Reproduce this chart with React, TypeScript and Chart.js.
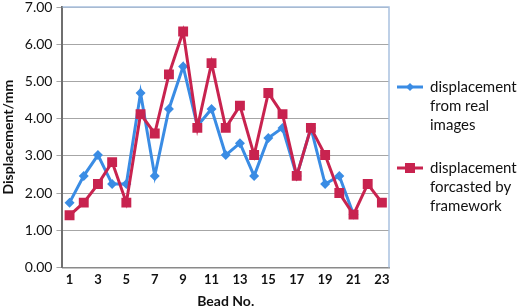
import React, { useEffect, useRef } from "react";
import { Chart, registerables } from "chart.js";

Chart.register(...registerables);

const categories = ["1","2","3","4","5","6","7","8","9","10","11","12","13","14","15","16","17","18","19","20","21","22","23"];
const realImages = [1.74, 2.46, 3.02, 2.24, 2.24, 4.69, 2.46, 4.26, 5.4, 3.8, 4.26, 3.02, 3.34, 2.46, 3.48, 3.75, 2.46, 3.75, 2.24, 2.46, 1.42, null, null];
const forecasted = [1.4, 1.74, 2.24, 2.83, 1.74, 4.12, 3.6, 5.19, 6.34, 3.75, 5.49, 3.75, 4.35, 3.02, 4.69, 4.12, 2.46, 3.75, 3.02, 2.0, 1.42, 2.24, 1.74];
const legendLines = [
  ["displacement", "from real", "images"],
  ["displacement", "forcasted by", "framework"],
];
const yTitle = "Displacement/mm";
const xTitle = "Bead No.";

const BLUE = "#3a8ce4";
const RED = "#c8234f";
const FONT = "Lato, 'Open Sans', sans-serif";

const borderPlugin = {
  id: "plotBorder",
  afterDatasetsDraw(chart: any) {
    const { ctx, chartArea } = chart;
    ctx.save();
    ctx.strokeStyle = "#a9c1df";
    ctx.lineWidth = 1.5;
    ctx.beginPath();
    ctx.moveTo(chartArea.left, chartArea.top);
    ctx.lineTo(chartArea.right, chartArea.top);
    ctx.lineTo(chartArea.right, chartArea.bottom);
    ctx.stroke();
    ctx.restore();
  },
};

const legendPlugin = {
  id: "sideLegend",
  afterDraw(chart: any) {
    const { ctx, chartArea } = chart;
    const x0 = chartArea.right + 8;
    const starts = [87, 168];
    const lineH = 19;
    ctx.save();
    chart.data.datasets.forEach((ds: any, i: number) => {
      const y = starts[i];
      ctx.strokeStyle = ds.borderColor;
      ctx.lineWidth = 3;
      ctx.beginPath();
      ctx.moveTo(x0, y);
      ctx.lineTo(x0 + 26, y);
      ctx.stroke();
      ctx.fillStyle = ds.backgroundColor;
      const cx = x0 + 13;
      if (ds.pointStyle === "rectRot") {
        ctx.beginPath();
        ctx.moveTo(cx, y - 4);
        ctx.lineTo(cx + 4, y);
        ctx.lineTo(cx, y + 4);
        ctx.lineTo(cx - 4, y);
        ctx.closePath();
        ctx.fill();
      } else {
        ctx.fillRect(cx - 5, y - 5, 10, 10);
      }
      ctx.fillStyle = "#111";
      ctx.font = `15px ${FONT}`;
      ctx.textBaseline = "middle";
      ctx.textAlign = "left";
      legendLines[i].forEach((t, k) => ctx.fillText(t, x0 + 33, y + k * lineH));
    });
    ctx.restore();
  },
};

export default function App() {
  const ref = useRef<HTMLCanvasElement>(null);
  useEffect(() => {
    if (!ref.current) return;
    const chart = new Chart(ref.current, {
      type: "line",
      data: {
        labels: categories,
        datasets: [
          {
            label: legendLines[0].join(" "),
            data: realImages,
            borderColor: BLUE,
            backgroundColor: BLUE,
            borderWidth: 3,
            pointStyle: "rectRot",
            pointRadius: 5,
            pointBorderWidth: 0,
            tension: 0,
            order: 2,
          },
          {
            label: legendLines[1].join(" "),
            data: forecasted,
            borderColor: RED,
            backgroundColor: RED,
            borderWidth: 3,
            pointStyle: "rect",
            pointRadius: 7,
            pointBorderWidth: 0,
            tension: 0,
            order: 1,
          },
        ],
      },
      options: {
        responsive: false,
        animation: false,
        layout: { padding: { left: 0, right: 131, top: 6, bottom: 0 } },
        plugins: {
          legend: { display: false },
          tooltip: { enabled: false },
        },
        scales: {
          x: {
            offset: true,
            grid: { display: false, drawTicks: false },
            border: { display: true, color: "#8a8a8a", width: 1.5 },
            ticks: {
              autoSkip: false,
              maxRotation: 0,
              color: "#111",
              font: { family: FONT, size: 13, weight: "bold" },
              padding: 5,
              callback: (v: any, i: number) => (i % 2 === 0 ? categories[i] : ""),
            },
            title: {
              display: true,
              text: xTitle,
              color: "#111",
              font: { family: FONT, size: 14, weight: "bold", lineHeight: 1 },
              padding: { top: 1, bottom: 0 },
            },
          },
          y: {
            min: 0,
            max: 7,
            grid: { color: "#a6a6a6", lineWidth: 1, tickLength: 6, drawTicks: true },
            border: { display: true, color: "#6f6f6f", width: 2 },
            ticks: {
              stepSize: 1,
              color: "#111",
              font: { family: FONT, size: 14, lineHeight: 0.4 },
              padding: 4,
              callback: (v: any) => Number(v).toFixed(2),
            },
            title: {
              display: true,
              text: yTitle,
              color: "#111",
              font: { family: FONT, size: 14, weight: "bold" },
              padding: { top: 0, bottom: 4 },
            },
          },
        },
      },
      plugins: [borderPlugin, legendPlugin],
    });
    return () => chart.destroy();
  }, []);
  return (
    <div style={{ position: "absolute", left: 0, top: 0, width: 520, height: 308, background: "#fff" }}>
      <canvas ref={ref} width={520} height={308} />
    </div>
  );
}
